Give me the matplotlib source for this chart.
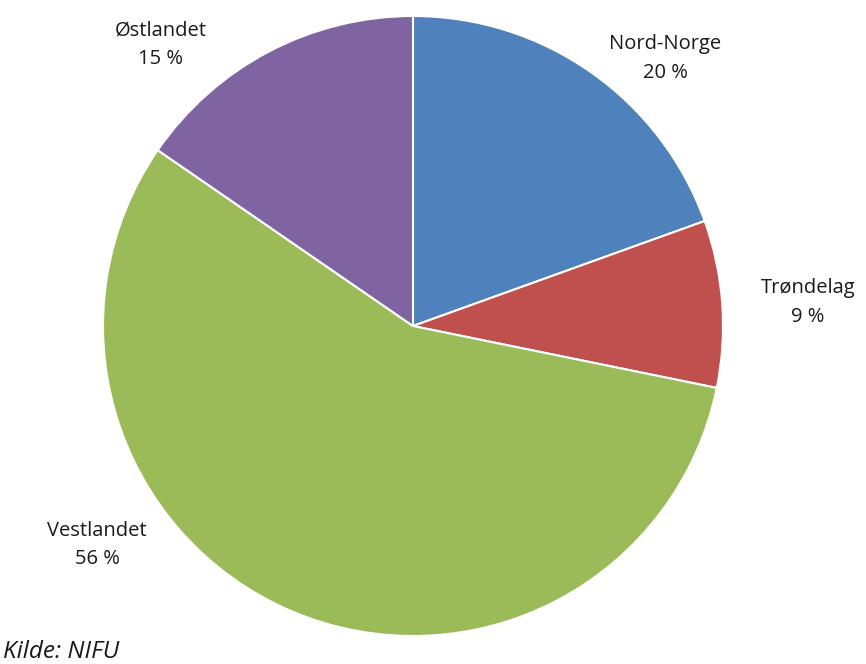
import matplotlib.pyplot as plt

regions = ["Nord-Norge", "Trøndelag", "Vestlandet", "Østlandet"]
shares = [19.5, 8.7, 56.4, 15.4]
share_labels = ["20 %", "9 %", "56 %", "15 %"]
colors = ["#4F81BD", "#C0504D", "#9BBB59", "#8064A2"]
# label centres in pixel coords of the picture (x, y from top)
label_pos = [(665, 58), (808, 302), (97, 545), (161, 45)]
source = "Kilde: NIFU"

W, H = 866, 664
fig = plt.figure(figsize=(W / 100, H / 100), dpi=100)
ax = fig.add_axes([0, 0, 1, 1])

ax.pie(shares, colors=colors, startangle=90, counterclock=False,
       center=(413, H - 326), radius=310,
       wedgeprops=dict(edgecolor="white", linewidth=1.5))

# pie() resets the limits, so set them afterwards
ax.set_xlim(0, W)
ax.set_ylim(0, H)
ax.set_aspect("equal")
ax.axis("off")

for name, lab, (x, y) in zip(regions, share_labels, label_pos):
    ax.text(x, H - y, f"{name}\n{lab}", ha="center", va="center",
            fontsize=14.5, family="Open Sans", color="#1a1a1a", linespacing=1.6)

ax.text(3, H - 652, source, ha="left", va="center", fontsize=17.5,
        family="Open Sans", style="italic", color="#1a1a1a")

fig.savefig("out.png", dpi=100)
